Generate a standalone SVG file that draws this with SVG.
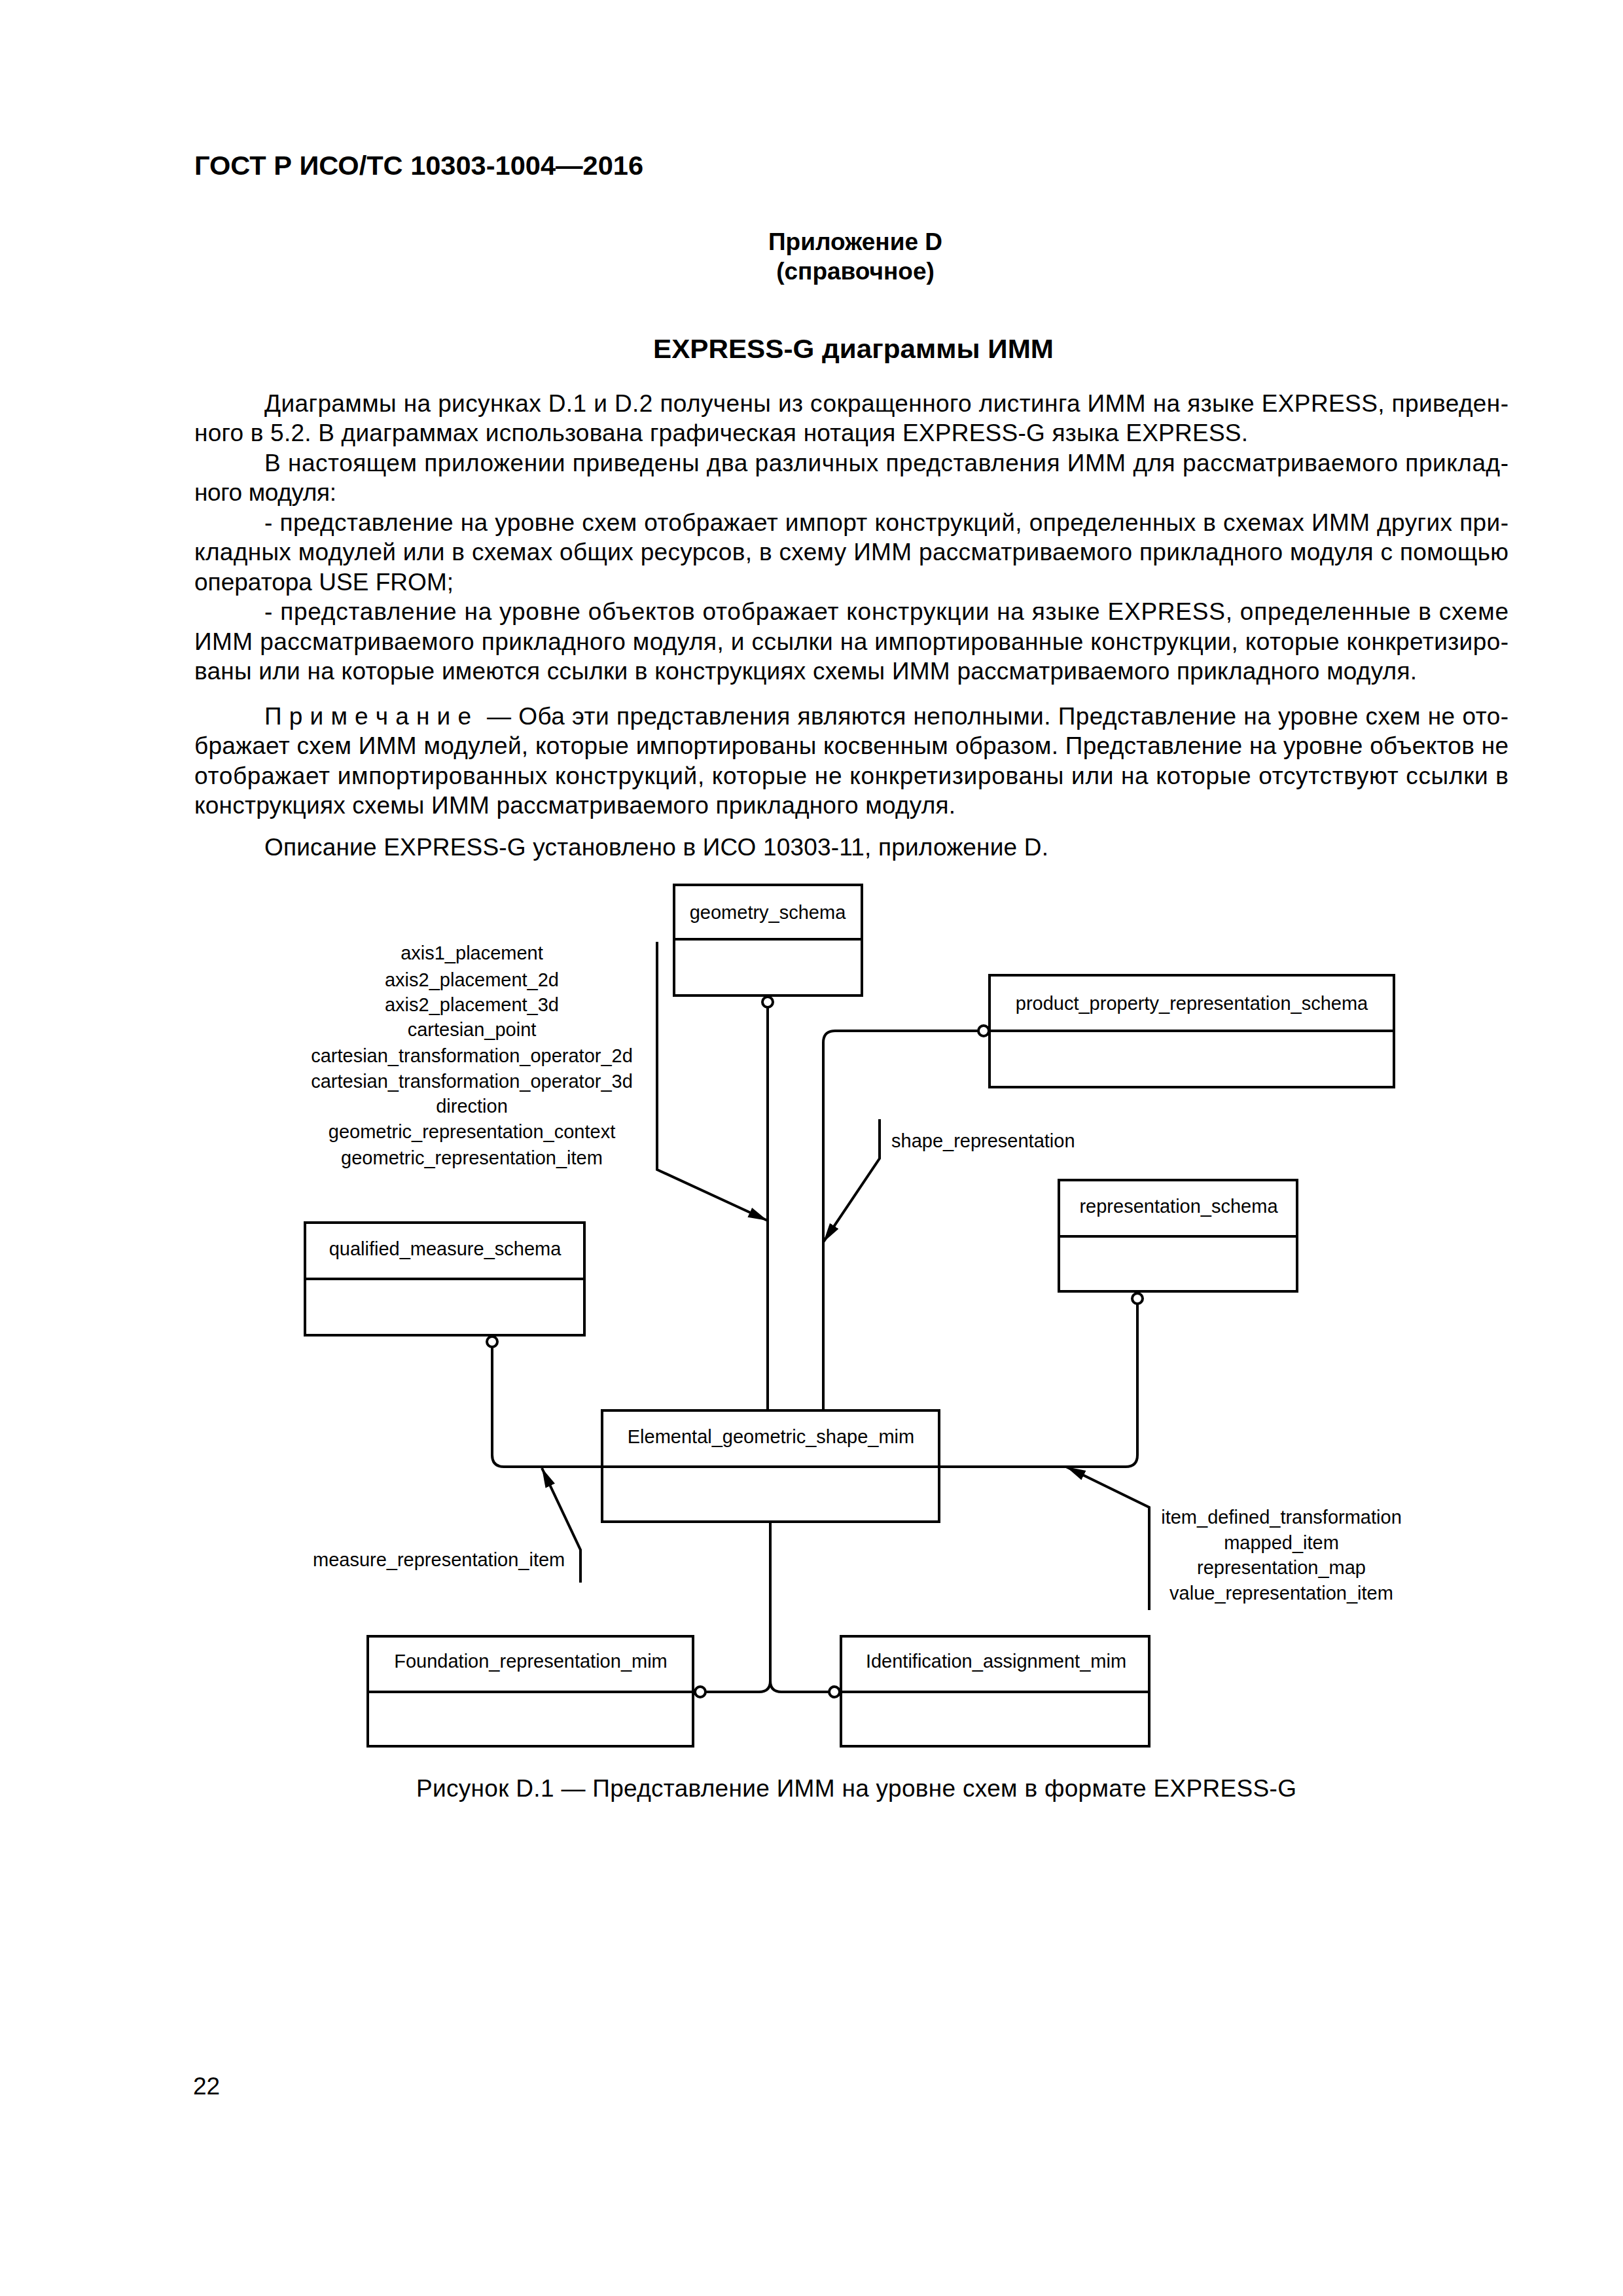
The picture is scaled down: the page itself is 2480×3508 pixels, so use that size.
<svg xmlns="http://www.w3.org/2000/svg" width="2480" height="3508" viewBox="0 0 2480 3508">
<style>
.t{font-family:"Liberation Sans",Arial,sans-serif;font-size:37px;fill:#000}
.b{font-weight:bold}
.d{font-family:"Liberation Sans",Arial,sans-serif;font-size:29px;fill:#000}
.box{fill:#fff;stroke:#000;stroke-width:4}
.ln{fill:none;stroke:#000;stroke-width:4}
.c{fill:#fff;stroke:#000;stroke-width:4}
</style>
<defs>
<marker id="ah" markerUnits="userSpaceOnUse" markerWidth="32" markerHeight="20" viewBox="0 0 32 20" refX="30" refY="10" orient="auto">
<path d="M0,2 L30,10 L0,18 Z" fill="#000"/>
</marker>
</defs>
<rect width="2480" height="3508" fill="#fff"/>

<g id="page-text">
<text class="t b" x="297" y="267" style="font-size:41px" textLength="686" lengthAdjust="spacingAndGlyphs">ГОСТ Р ИСО/ТС 10303-1004—2016</text>
<text class="t b" x="1307" y="382" text-anchor="middle">Приложение D</text>
<text class="t b" x="1307" y="427" text-anchor="middle">(справочное)</text>
<text class="t b" x="998" y="547" style="font-size:41px" textLength="612" lengthAdjust="spacingAndGlyphs">EXPRESS-G диаграммы ИММ</text>

<text class="t" x="404" y="629" textLength="1901" lengthAdjust="spacing">Диаграммы на рисунках D.1 и D.2 получены из сокращенного листинга ИММ на языке EXPRESS, приведен-</text>
<text class="t" x="297" y="674" textLength="1610" lengthAdjust="spacing">ного в 5.2. В диаграммах использована графическая нотация EXPRESS-G языка EXPRESS.</text>
<text class="t" x="404" y="720" textLength="1901" lengthAdjust="spacing">В настоящем приложении приведены два различных представления ИММ для рассматриваемого приклад-</text>
<text class="t" x="297" y="765" textLength="217" lengthAdjust="spacing">ного модуля:</text>
<text class="t" x="404" y="811" textLength="1901" lengthAdjust="spacing">- представление на уровне схем отображает импорт конструкций, определенных в схемах ИММ других при-</text>
<text class="t" x="297" y="856" textLength="2008" lengthAdjust="spacing">кладных модулей или в схемах общих ресурсов, в схему ИММ рассматриваемого прикладного модуля с помощью</text>
<text class="t" x="297" y="902" textLength="396" lengthAdjust="spacing">оператора USE FROM;</text>
<text class="t" x="404" y="947" textLength="1901" lengthAdjust="spacing">- представление на уровне объектов отображает конструкции на языке EXPRESS, определенные в схеме</text>
<text class="t" x="297" y="993" textLength="2008" lengthAdjust="spacing">ИММ рассматриваемого прикладного модуля, и ссылки на импортированные конструкции, которые конкретизиро-</text>
<text class="t" x="297" y="1038" textLength="1868" lengthAdjust="spacing">ваны или на которые имеются ссылки в конструкциях схемы ИММ рассматриваемого прикладного модуля.</text>

<text class="t" x="404" y="1107" textLength="316" lengthAdjust="spacing">П р и м е ч а н и е</text>
<text class="t" x="744" y="1107" textLength="1561" lengthAdjust="spacing">— Оба эти представления являются неполными. Представление на уровне схем не ото-</text>
<text class="t" x="297" y="1152" textLength="2008" lengthAdjust="spacing">бражает схем ИММ модулей, которые импортированы косвенным образом. Представление на уровне объектов не</text>
<text class="t" x="297" y="1198" textLength="2008" lengthAdjust="spacing">отображает импортированных конструкций, которые не конкретизированы или на которые отсутствуют ссылки в</text>
<text class="t" x="297" y="1243" textLength="1163" lengthAdjust="spacing">конструкциях схемы ИММ рассматриваемого прикладного модуля.</text>

<text class="t" x="404" y="1307" textLength="1198" lengthAdjust="spacing">Описание EXPRESS-G установлено в ИСО 10303-11, приложение D.</text>

<text class="t" x="636" y="2745" textLength="1345" lengthAdjust="spacing">Рисунок D.1 — Представление ИММ на уровне схем в формате EXPRESS-G</text>
<text class="t" x="295" y="3200">22</text>
</g>

<g id="connectors">
<path class="ln" d="M1173,1540 V2155"/>
<path class="ln" d="M1494,1575 H1276 Q1258,1575 1258,1593 V2155"/>
<path class="ln" d="M752,2059 V2223 Q752,2241 770,2241 H1720 Q1738,2241 1738,2223 V1993"/>
<path class="ln" d="M1177,2325 V2568 Q1177,2585 1160,2585 H1079"/>
<path class="ln" d="M1177,2568 Q1177,2585 1194,2585 H1266"/>
<path class="ln" d="M1004,1439 V1787 L1173,1865" marker-end="url(#ah)"/>
<path class="ln" d="M1344,1710 V1770 L1258,1898" marker-end="url(#ah)"/>
<path class="ln" d="M887,2418 V2368 L828,2243" marker-end="url(#ah)"/>
<path class="ln" d="M1756,2460 V2303 L1629,2241" marker-end="url(#ah)"/>
<circle class="c" cx="1173" cy="1531" r="8"/>
<circle class="c" cx="1503" cy="1575" r="8"/>
<circle class="c" cx="1738" cy="1984" r="8"/>
<circle class="c" cx="752" cy="2050" r="8"/>
<circle class="c" cx="1070" cy="2585" r="8"/>
<circle class="c" cx="1275" cy="2585" r="8"/>
</g>

<g id="labels">
<text class="d" text-anchor="middle" x="721" y="1466">axis1_placement</text>
<text class="d" text-anchor="middle" x="721" y="1507">axis2_placement_2d</text>
<text class="d" text-anchor="middle" x="721" y="1545">axis2_placement_3d</text>
<text class="d" text-anchor="middle" x="721" y="1583">cartesian_point</text>
<text class="d" text-anchor="middle" x="721" y="1623">cartesian_transformation_operator_2d</text>
<text class="d" text-anchor="middle" x="721" y="1662">cartesian_transformation_operator_3d</text>
<text class="d" text-anchor="middle" x="721" y="1700">direction</text>
<text class="d" text-anchor="middle" x="721" y="1739">geometric_representation_context</text>
<text class="d" text-anchor="middle" x="721" y="1779">geometric_representation_item</text>
<text class="d" x="1362" y="1753">shape_representation</text>
<text class="d" x="478" y="2393">measure_representation_item</text>
<text class="d" text-anchor="middle" x="1958" y="2328">item_defined_transformation</text>
<text class="d" text-anchor="middle" x="1958" y="2367">mapped_item</text>
<text class="d" text-anchor="middle" x="1958" y="2405">representation_map</text>
<text class="d" text-anchor="middle" x="1958" y="2444">value_representation_item</text>
</g>

<g id="geometry_schema">
<rect class="box" x="1030" y="1352" width="287" height="169"/>
<line class="ln" x1="1030" y1="1435" x2="1317" y2="1435"/>
<text class="d" text-anchor="middle" x="1173" y="1404">geometry_schema</text>
</g>
<g id="product_property_representation_schema">
<rect class="box" x="1512" y="1490" width="618" height="171"/>
<line class="ln" x1="1512" y1="1575" x2="2130" y2="1575"/>
<text class="d" text-anchor="middle" x="1821" y="1543">product_property_representation_schema</text>
</g>
<g id="representation_schema">
<rect class="box" x="1618" y="1803" width="364" height="170"/>
<line class="ln" x1="1618" y1="1889" x2="1982" y2="1889"/>
<text class="d" text-anchor="middle" x="1801" y="1853">representation_schema</text>
</g>
<g id="qualified_measure_schema">
<rect class="box" x="466" y="1868" width="427" height="172"/>
<line class="ln" x1="466" y1="1954" x2="893" y2="1954"/>
<text class="d" text-anchor="middle" x="680" y="1918">qualified_measure_schema</text>
</g>
<g id="Elemental_geometric_shape_mim">
<rect class="box" x="920" y="2155" width="515" height="170" style="fill:none"/>
<line class="ln" x1="920" y1="2241" x2="1435" y2="2241"/>
<text class="d" text-anchor="middle" x="1178" y="2205">Elemental_geometric_shape_mim</text>
</g>
<g id="Foundation_representation_mim">
<rect class="box" x="562" y="2500" width="497" height="168"/>
<line class="ln" x1="562" y1="2585" x2="1059" y2="2585"/>
<text class="d" text-anchor="middle" x="811" y="2548">Foundation_representation_mim</text>
</g>
<g id="Identification_assignment_mim">
<rect class="box" x="1285" y="2500" width="471" height="168"/>
<line class="ln" x1="1285" y1="2585" x2="1756" y2="2585"/>
<text class="d" text-anchor="middle" x="1522" y="2548">Identification_assignment_mim</text>
</g>
</svg>
